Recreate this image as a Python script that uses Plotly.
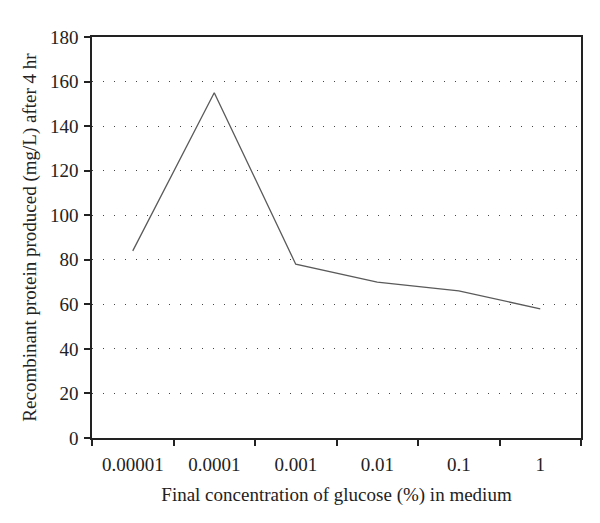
import plotly.graph_objects as go

# glucose concentration categories (%) and protein yield (mg/L)
concentrations = ["0.00001", "0.0001", "0.001", "0.01", "0.1", "1"]
protein = [84, 155, 78, 70, 66, 58]
y_ticks = [0, 20, 40, 60, 80, 100, 120, 140, 160, 180]

font_family = "Liberation Serif, Times New Roman, serif"

fig = go.Figure(go.Scatter(
    x=concentrations,
    y=protein,
    mode="lines",
    line=dict(color="#5a5a5a", width=1.3),
    hoverinfo="x+y",
))

# page body has an 8px margin, so the figure is sized/offset to compensate
fig.update_layout(
    width=592, height=507,
    margin=dict(l=84, r=19, t=29, b=77),
    paper_bgcolor="white",
    plot_bgcolor="white",
    showlegend=False,
    font=dict(family=font_family, size=19, color="#222"),
    xaxis=dict(
        type="category",
        range=[-0.5, 5.5],
        automargin=False,
        title=dict(text="Final concentration of glucose (%) in medium",
                   font=dict(size=19), standoff=14),
        tickson="boundaries",
        ticks="outside", ticklen=6, tickwidth=1.5, tickcolor="#222",
        ticklabelstandoff=8,
        showline=True, linecolor="#222", linewidth=1.5, mirror=True,
        showgrid=False, zeroline=False,
        tickfont=dict(size=19),
    ),
    yaxis=dict(
        automargin=False,
        title=dict(text="Recombinant protein produced (mg/L) after 4 hr",
                   font=dict(size=19), standoff=8),
        range=[0, 180],
        tickvals=y_ticks,
        ticks="outside", ticklen=6, tickwidth=1.5, tickcolor="#222",
        ticklabelstandoff=2,
        showline=True, linecolor="#222", linewidth=1.5, mirror=True,
        showgrid=True, gridcolor="#444", gridwidth=1, griddash="1px,10px",
        zeroline=False,
        tickfont=dict(size=19),
    ),
)

fig.write_html("out.html")
